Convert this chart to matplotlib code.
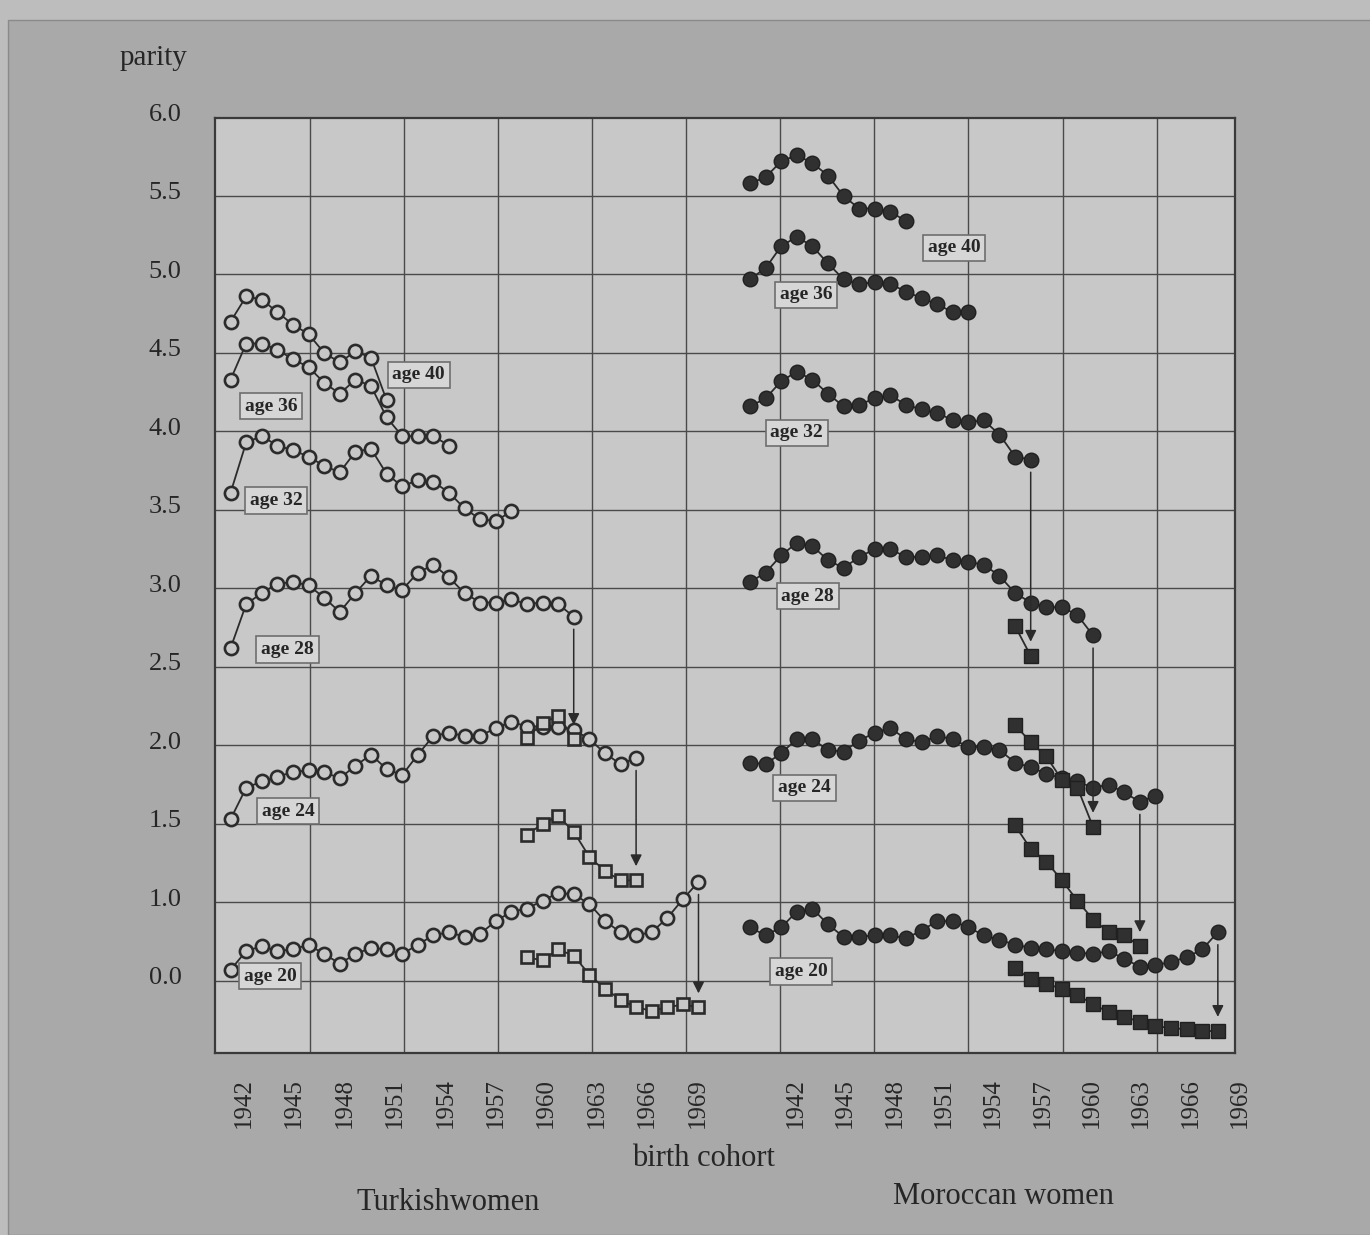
import matplotlib
matplotlib.use('Agg')
import matplotlib.pyplot as plt
import matplotlib.transforms as mtransforms
from matplotlib.patches import Rectangle
import numpy as np

plt.rcParams['font.family'] = ['Liberation Serif', 'DejaVu Serif']

## values (parity by birth cohort)
turk_first_cohort = 1942
mor_first_cohort = 1940

turk_age40 = [4.70, 4.86, 4.84, 4.76, 4.68, 4.62, 4.50, 4.44, 4.51, 4.47, 4.20]
turk_age36 = [4.33, 4.56, 4.56, 4.52, 4.46, 4.41, 4.31, 4.24, 4.33, 4.29, 4.09, 3.97, 3.97, 3.97, 3.91]
turk_age32 = [3.61, 3.93, 3.97, 3.91, 3.88, 3.84, 3.78, 3.74, 3.87, 3.89, 3.73, 3.65, 3.69, 3.68,
              3.61, 3.51, 3.44, 3.43, 3.49]
turk_age28 = [2.62, 2.90, 2.97, 3.03, 3.04, 3.02, 2.94, 2.85, 2.97, 3.08, 3.02, 2.99, 3.10, 3.15,
              3.07, 2.97, 2.91, 2.91, 2.93, 2.90, 2.91, 2.90, 2.82]
turk_age24 = [1.53, 1.73, 1.77, 1.80, 1.83, 1.84, 1.83, 1.79, 1.87, 1.94, 1.85, 1.81, 1.94, 2.06,
              2.08, 2.06, 2.06, 2.11, 2.15, 2.12, 2.12, 2.12, 2.10, 2.04, 1.95, 1.88, 1.92]
turk_age20 = [0.57, 0.69, 0.72, 0.69, 0.70, 0.73, 0.67, 0.61, 0.67, 0.71, 0.70, 0.67, 0.73, 0.79,
              0.81, 0.78, 0.80, 0.88, 0.94, 0.96, 1.01, 1.06, 1.05, 0.99, 0.88, 0.81, 0.79, 0.81,
              0.90, 1.02, 1.13]
# squares start at cohort 1961
turk_sq_first = 1961
turk_sq28 = [2.05, 2.14, 2.19, 2.04]
turk_sq24 = [1.43, 1.50, 1.55, 1.45, 1.29, 1.20, 1.14, 1.14]
turk_sq20 = [0.65, 0.63, 0.70, 0.66, 0.54, 0.45, 0.38, 0.33, 0.31, 0.33, 0.35, 0.33]

mor_age40 = [5.58, 5.62, 5.72, 5.76, 5.71, 5.63, 5.50, 5.42, 5.42, 5.40, 5.34]
mor_age36 = [4.97, 5.04, 5.18, 5.24, 5.18, 5.07, 4.97, 4.94, 4.95, 4.94, 4.89, 4.85, 4.81, 4.76, 4.76]
mor_age32 = [4.16, 4.21, 4.32, 4.38, 4.33, 4.24, 4.16, 4.17, 4.21, 4.23, 4.17, 4.14, 4.12, 4.07,
             4.06, 4.07, 3.98, 3.84, 3.82]
mor_age28 = [3.04, 3.10, 3.21, 3.29, 3.27, 3.18, 3.13, 3.20, 3.25, 3.25, 3.20, 3.20, 3.21, 3.18,
             3.17, 3.15, 3.08, 2.97, 2.91, 2.88, 2.88, 2.83, 2.70]
mor_age24 = [1.89, 1.88, 1.95, 2.04, 2.04, 1.97, 1.96, 2.03, 2.08, 2.11, 2.04, 2.02, 2.06, 2.04,
             1.99, 1.99, 1.97, 1.89, 1.86, 1.82, 1.79, 1.77, 1.73, 1.75, 1.70, 1.64, 1.68]
mor_age20 = [0.84, 0.79, 0.84, 0.94, 0.96, 0.86, 0.78, 0.78, 0.79, 0.79, 0.77, 0.82, 0.88, 0.88,
             0.84, 0.79, 0.76, 0.73, 0.71, 0.70, 0.69, 0.68, 0.67, 0.69, 0.64, 0.59, 0.60, 0.62,
             0.65, 0.70, 0.81]
# squares start at cohort 1957
mor_sq_first = 1957
mor_sq32 = [2.76, 2.57]
mor_sq28 = [2.13, 2.02, 1.93, 1.78, 1.73, 1.48]
mor_sq24 = [1.49, 1.34, 1.26, 1.14, 1.01, 0.89, 0.81, 0.79, 0.72]
mor_sq20 = [0.58, 0.51, 0.48, 0.45, 0.41, 0.35, 0.30, 0.27, 0.24, 0.21, 0.20, 0.19, 0.18, 0.18]

year_labels = [1942, 1945, 1948, 1951, 1954, 1957, 1960, 1963, 1966, 1969]
ytick_vals = [0.5, 1.0, 1.5, 2.0, 2.5, 3.0, 3.5, 4.0, 4.5, 5.0, 5.5, 6.0]
ytick_text = ['0.0', '1.0', '1.5', '2.0', '2.5', '3.0', '3.5', '4.0', '4.5', '5.0', '5.5', '6.0']

## layout of the printed figure
MOR_SHIFT = 33.3          # the Moroccan block sits to the right of the Turkish one
# printed year labels do not sit exactly on the points: (first label, step per year)
TURK_LABELS = (0.85, 1.077)
MOR_LABELS = (36.25, 1.054)

def tx(first, n):
    return np.arange(n) + (first - turk_first_cohort)

def mx(first, n):
    return np.arange(n) + (first - mor_first_cohort) + MOR_SHIFT

INK = '#2b2b2b'
PAPER = '#c8c8c8'

fig = plt.figure(figsize=(13.7, 12.35), dpi=100, facecolor='#bdbdbd')
fig.patches.append(Rectangle((8 / 1370, 0), 1, 1 - 20 / 1235, transform=fig.transFigure,
                             fc='#a9a9a9', ec='#8a8a8a', lw=1.0, zorder=-10))
ax = fig.add_axes([215 / 1370, 1 - 1053 / 1235, 1020 / 1370, 935.5 / 1235])
ax.set_zorder(2)
ax.set_facecolor(PAPER)

# grid
for gx in np.arange(5.1, 64.0, 6.03):
    ax.axvline(gx, color='#4a4a4a', lw=1.0, zorder=1)
for gy in ytick_vals[:-1]:
    ax.axhline(gy, color='#4a4a4a', lw=1.0, zorder=1)
for s in ax.spines.values():
    s.set_color('#3a3a3a')
    s.set_linewidth(1.6)

open_kw = dict(color=INK, lw=1.3, mfc=PAPER, mec=INK, mew=1.9, zorder=3)
fill_kw = dict(color=INK, lw=1.3, mfc='#303030', mec='#202020', mew=1.0, zorder=3)

turk_series = [turk_age40, turk_age36, turk_age32, turk_age28, turk_age24, turk_age20]
mor_series = [mor_age40, mor_age36, mor_age32, mor_age28, mor_age24, mor_age20]
for vals in turk_series:
    ax.plot(tx(turk_first_cohort, len(vals)), vals, marker='o', ms=9.5, **open_kw)
for vals in [turk_sq28, turk_sq24, turk_sq20]:
    ax.plot(tx(turk_sq_first, len(vals)), vals, marker='s', ms=9, **open_kw)
for vals in mor_series:
    ax.plot(mx(mor_first_cohort, len(vals)), vals, marker='o', ms=10.5, **fill_kw)
for vals in [mor_sq32, mor_sq28, mor_sq24, mor_sq20]:
    ax.plot(mx(mor_sq_first, len(vals)), vals, marker='s', ms=10, **fill_kw)

# arrows from the end of one age curve down to the end of the squares below it
def drop(x, top, bottom):
    ax.annotate('', xy=(x, bottom + 0.09), xytext=(x, top - 0.08),
                arrowprops=dict(arrowstyle='-|>', color=INK, lw=1.1, mutation_scale=17,
                                shrinkA=0, shrinkB=0), zorder=4)

for circ, sq in [(turk_age28, turk_sq28), (turk_age24, turk_sq24), (turk_age20, turk_sq20)]:
    x = tx(turk_sq_first, len(sq))[-1]
    drop(x, circ[int(x)], sq[-1])
for circ, sq in [(mor_age32, mor_sq32), (mor_age28, mor_sq28), (mor_age24, mor_sq24),
                 (mor_age20, mor_sq20)]:
    x = mx(mor_sq_first, len(sq))[-1]
    drop(x, circ[int(round(x - MOR_SHIFT))], sq[-1])

# age labels in boxes
box = dict(boxstyle='square,pad=0.24', fc='#d6d6d6', ec='#6e6e6e', lw=1.2)
age_names = ['age 40', 'age 36', 'age 32', 'age 28', 'age 24', 'age 20']
turk_label_pos = [(12.05, 4.36), (2.58, 4.16), (2.93, 3.56), (3.65, 2.61), (3.70, 1.58), (2.53, 0.53)]
mor_label_pos = [(46.4, 5.17), (36.9, 4.87), (36.3, 3.99), (37.0, 2.95), (36.8, 1.73), (36.6, 0.56)]
for name, (x, y) in zip(age_names * 2, turk_label_pos + mor_label_pos):
    ax.text(x, y, name, ha='center', va='center', fontsize=14, fontweight='bold',
            color='#262626', bbox=box, zorder=5)

ax.set_xlim(-1.0, 64.4)
ax.set_ylim(0.04, 6.0)

# year labels under the frame (the last one hangs past the right edge, as printed)
ax.set_xticks([])
below = mtransforms.blended_transform_factory(ax.transData, ax.transAxes)
for x0, step in [TURK_LABELS, MOR_LABELS]:
    for yr in year_labels:
        ax.text(x0 + (yr - 1942) * step, -0.027, str(yr), rotation=90, ha='center', va='top',
                fontsize=18, color='#262626', transform=below, clip_on=False)

ax.set_yticks(ytick_vals)
ax.set_yticklabels(ytick_text, fontsize=19, color='#262626')
ax.tick_params(axis='both', length=0)
ax.tick_params(axis='y', pad=24)
lift = mtransforms.ScaledTranslation(0, 5 / 100, fig.dpi_scale_trans)
for lab in ax.get_yticklabels():
    lab.set_transform(lab.get_transform() + lift)

fig.text(153 / 1370, 1 - 58 / 1235, 'parity', ha='center', va='center', fontsize=21, color='#262626')
fig.text(703 / 1370, 1 - 1158 / 1235, 'birth cohort', ha='center', va='center', fontsize=22,
         color='#262626')
fig.text(448 / 1370, 1 - 1203 / 1235, 'Turkishwomen', ha='center', va='center', fontsize=22,
         color='#262626')
fig.text(1003 / 1370, 1 - 1197 / 1235, 'Moroccan women', ha='center', va='center', fontsize=22,
         color='#262626')

fig.savefig('out.png', dpi=100, facecolor=fig.get_facecolor())
